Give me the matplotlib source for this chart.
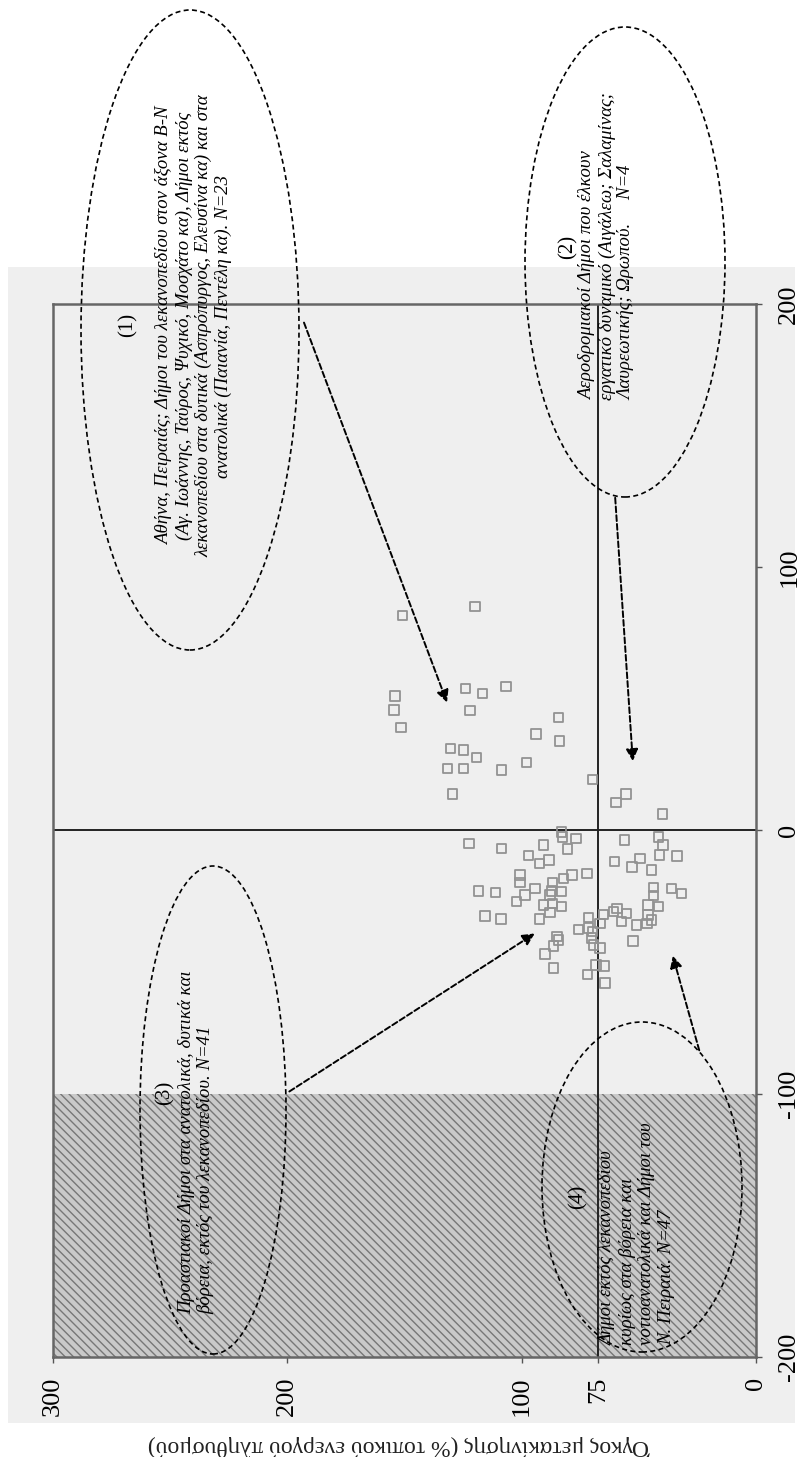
import matplotlib
matplotlib.use('Agg')
import matplotlib.pyplot as plt
from matplotlib.patches import Ellipse, Rectangle, FancyArrowPatch

# ---------------- data (original chart coordinates) ----------------
# net flow balance (horizontal axis of the original chart, -200..200)
balance = [81.6, 85.0, 54.0, 52.1, 54.6, 51.1, 45.8, 39.2, 45.5, 43.0,
           36.7, 34.0, 31.2, 30.6, 27.7, 25.8, 23.6, 23.6, 23.0, 19.4,
           13.9, 13.9, 10.7, 6.3, -0.5, -2.4, -3.0, -4.9, -6.8, -5.5,
           -7.0, -3.6, -2.4, -5.5, -9.6, -12.5, -11.2, -11.8, -13.8, -10.6,
           -9.3, -9.7, -15.0, -16.9, -18.2, -16.9, -16.3, -19.7, -19.7, -22.0,
           -23.0, -23.5, -23.0, -23.2, -21.7, -22.0, -23.9, -24.5, -24.5, -27.0,
           -24.8, -28.3, -27.7, -28.9, -28.3, -28.9, -29.6, -31.1, -32.5, -33.6,
           -33.6, -33.1, -31.8, -30.8, -31.5, -32.1, -34.0, -35.3, -34.6, -35.9,
           -35.3, -37.5, -37.1, -38.4, -40.3, -41.6, -40.9, -43.5, -42.0, -44.7,
           -43.8, -46.9, -51.1, -51.4, -52.3, -54.6, -58.0]
# commuting volume (% of local active population, vertical axis of the original, 0..300)
volume = [150.9, 119.9, 123.9, 116.8, 106.7, 154.1, 154.5, 151.5, 122.0, 84.4,
          93.9, 83.9, 130.3, 124.9, 119.2, 97.9, 131.6, 124.9, 108.5, 69.7,
          129.4, 55.5, 59.7, 40.0, 82.9, 82.5, 76.9, 122.5, 108.5, 90.8,
          80.5, 56.2, 41.7, 39.6, 97.2, 92.5, 88.3, 60.5, 53.0, 49.5,
          41.3, 33.8, 44.5, 100.7, 82.2, 78.6, 72.2, 100.7, 86.8, 94.3,
          118.5, 111.1, 87.2, 82.9, 43.8, 36.0, 31.7, 98.6, 87.9, 102.1,
          43.8, 90.8, 86.8, 82.9, 46.0, 41.7, 59.4, 87.9, 115.6, 108.9,
          92.5, 71.6, 65.2, 60.9, 55.2, 46.0, 44.5, 66.6, 57.3, 50.9,
          46.6, 75.8, 71.6, 69.7, 85.0, 84.4, 70.1, 69.4, 52.4, 66.6,
          86.5, 90.0, 68.3, 64.9, 86.5, 72.0, 64.4]

balance_ticks = [-200, -100, 0, 100, 200]
volume_ticks = [0, 100, 200, 300]
volume_ref = 67.3          # reference line position
volume_ref_label = '75'    # label written beside it in the picture
balance_ref = 0
hatch_from, hatch_to = -200, -100

ylabel_text = 'Όγκος μετακίνησης (% τοπικού ενεργού πληθυσμού)'

group_numbers = ['(1)', '(2)', '(3)', '(4)']
group_texts = [
    'Αθήνα, Πειραιάς; Δήμοι του λεκανοπεδίου στον άξονα Β-Ν\n'
    '(Αγ. Ιωάννης, Ταύρος, Ψυχικό, Μοσχάτο κα), Δήμοι εκτός\n'
    'λεκανοπεδίου στα δυτικά (Ασπρόπυργος, Ελευσίνα κα) και στα\n'
    'ανατολικά (Παιανία, Πεντέλη κα). Ν=23',
    'Αεροδρομιακοί Δήμοι που έλκουν\n'
    'εργατικό δυναμικό (Αιγάλεω; Σαλαμίνας;\n'
    'Λαυρεωτικής; Ωρωπού.     Ν=4',
    'Προαστιακοί Δήμοι στα ανατολικά, δυτικά και\n'
    'βόρεια, εκτός του λεκανοπεδίου. Ν=41',
    'Δήμοι εκτός λεκανοπεδίου\n'
    'κυρίως στα βόρεια και\n'
    'νοτιοανατολικά και Δήμοι του\n'
    'Ν. Πειραιά. Ν=47',
]

# ---------------- figure ----------------
W, H = 809, 1457
DPI = 100
plt.rcParams['hatch.linewidth'] = 1.0
plt.rcParams['hatch.color'] = '#777777'
SERIF = ['Liberation Serif', 'DejaVu Serif']

fig = plt.figure(figsize=(W / DPI, H / DPI), dpi=DPI, facecolor='white')


def fx(px):
    return px / W


def fy(py):
    return 1 - py / H


# chart-area background (light grey)
fig.add_artist(Rectangle((fx(8), fy(1423)), fx(795) - fx(8), fy(267) - fy(1423),
                         transform=fig.transFigure, facecolor='#efefef',
                         edgecolor='none', zorder=0))

# plot area (chart is shown rotated 90 degrees counter-clockwise)
ax = fig.add_axes([fx(53), fy(1357), fx(756) - fx(53), fy(304) - fy(1357)])
ax.set_facecolor('#efefef')
ax.set_xlim(300, 0)
ax.set_ylim(-200, 200)

ax.axhspan(hatch_from, hatch_to, facecolor='#c9c9c9', edgecolor='#777777',
           hatch='\\\\\\\\', linewidth=0, zorder=1)
ax.axvline(volume_ref, color='#222222', lw=1.4, zorder=2)
ax.axhline(balance_ref, color='#222222', lw=1.4, zorder=2)

ax.scatter(volume, balance, marker='s', s=46, facecolors='none',
           edgecolors='#929292', linewidths=1.3, zorder=3)

for sp in ax.spines.values():
    sp.set_color('#666666')
    sp.set_linewidth(1.8)

vt = volume_ticks + [volume_ref]
vl = [str(v) for v in volume_ticks] + [volume_ref_label]
ax.set_xticks(vt)
ax.set_xticklabels(vl, rotation=90, fontsize=19, family=SERIF)
ax.yaxis.tick_right()
ax.set_yticks(balance_ticks)
ax.set_yticklabels([str(b) for b in balance_ticks], rotation=90, va='center',
                   fontsize=19, family=SERIF)
ax.tick_params(axis='x', length=4, width=1, color='#555555', pad=10)
ax.tick_params(axis='y', length=4, width=1, color='#555555', pad=12)

# axis title (rotated 180 deg at the bottom)
fig.text(fx(400), fy(1446), ylabel_text, rotation=180, ha='center', va='center',
         fontsize=17, family=SERIF, color='#222222')

# ---------------- annotations ----------------
ellipses = [(190, 330, 218, 640), (625, 262, 200, 470),
            (213, 1110, 146, 488), (642, 1187, 200, 330)]
for cx, cy, w, h in ellipses:
    fig.add_artist(Ellipse((fx(cx), fy(cy)), w / W, h / H, transform=fig.transFigure,
                           fill=False, edgecolor='black', lw=1.2,
                           linestyle=(0, (3, 2)), zorder=5))

num_pos = [(128, 325), (568, 247), (165, 1093), (578, 1197)]
for (px, py), s in zip(num_pos, group_numbers):
    fig.text(fx(px), fy(py), s, rotation=90, ha='center', va='center',
             fontsize=15, family=SERIF, zorder=6)

text_pos = [(194, 326, 'center', 'center', 'center'),
            (607, 400, 'center', 'bottom', 'left'),
            (196, 1314, 'center', 'bottom', 'left'),
            (637, 1345, 'center', 'bottom', 'left')]
for (px, py, ha, va, ma), s in zip(text_pos, group_texts):
    fig.text(fx(px), fy(py), s, rotation=90, ha=ha, va=va, multialignment=ma,
             fontsize=13.5, family=SERIF, style='italic', linespacing=1.2,
             zorder=6)

arrows = [((303, 320), (448, 705)), ((615, 495), (633, 764)),
          ((287, 1093), (537, 932)), ((700, 1053), (672, 953))]
for (x0, y0), (x1, y1) in arrows:
    fig.add_artist(FancyArrowPatch((fx(x0), fy(y0)), (fx(x1), fy(y1)),
                                   transform=fig.transFigure, arrowstyle='-|>',
                                   mutation_scale=18, lw=1.4, color='black',
                                   linestyle=(0, (3, 1.5)), zorder=6))

fig.savefig('out.png', dpi=DPI, facecolor='white')
